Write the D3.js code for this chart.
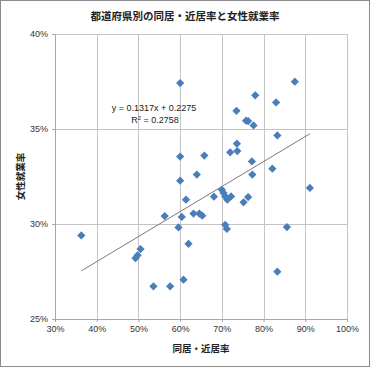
<!DOCTYPE html>
<html>
<head>
<meta charset="utf-8">
<script src="https://cdn.jsdelivr.net/npm/d3@7"></script>
<style>
  body { margin: 0; background: #fff; }
  svg { display: block; }
</style>
</head>
<body>
<svg id="chart"></svg>
<script>
// 同居・近居率 (x) と 女性就業率 (y), % values
var kinRate = [36.3, 49.3, 49.8, 50.5, 53.6, 56.3, 57.6, 59.6, 60.0, 60.0, 60.0, 60.4, 60.8, 61.4, 62.0, 63.2,
    64.0, 64.6, 65.3, 65.8, 68.1, 70.0, 70.4, 70.8, 71.3, 72.2, 70.8, 71.2, 72.0, 73.5, 73.6, 73.7,
    75.2, 75.8, 76.3, 76.3, 77.2, 77.3, 77.6, 78.0, 82.1, 83.0, 83.3, 83.3, 85.6, 87.5, 91.1];
var femaleWork = [29.4, 28.2, 28.35, 28.68, 26.72, 30.42, 26.72, 29.82, 37.42, 33.55, 32.28, 30.37, 27.07, 31.28, 28.96, 30.55,
    32.6, 30.55, 30.44, 33.6, 31.44, 31.8, 31.63, 31.45, 31.28, 31.45, 29.96, 29.74, 33.77, 35.96, 34.23, 33.84,
    31.14, 35.44, 35.42, 31.42, 33.29, 32.6, 35.19, 36.77, 32.91, 36.4, 34.66, 27.49, 29.84, 37.49, 31.9];
var xTicks = [30, 40, 50, 60, 70, 80, 90, 100];
var yTicks = [25, 30, 35, 40];
var slope = 0.1317, intercept = 0.2275, rSquared = 0.2758;

var W = 370, H = 367;
var margin = { top: 34, right: 23, bottom: 48, left: 55 },
    width = W - margin.left - margin.right,
    height = H - margin.top - margin.bottom;

var svg = d3.select("#chart").attr("width", W).attr("height", H);

// outer frame
svg.append("rect")
    .attr("x", 0.5).attr("y", 0.5)
    .attr("width", W - 1).attr("height", H - 1)
    .attr("fill", "#fff").attr("stroke", "#8c8c8c");

var x = d3.scaleLinear().domain([30, 100]).range([0, width]);
var y = d3.scaleLinear().domain([25, 40]).range([height, 0]);

var g = svg.append("g")
    .attr("transform", "translate(" + margin.left + "," + margin.top + ")");

// gridlines
g.append("g").selectAll("line").data(xTicks).enter().append("line")
    .attr("x1", function (d) { return Math.round(x(d)) + 0.5; })
    .attr("x2", function (d) { return Math.round(x(d)) + 0.5; })
    .attr("y1", 0).attr("y2", height)
    .attr("stroke", "#c4c4c4");
g.append("g").selectAll("line").data(yTicks).enter().append("line")
    .attr("y1", function (d) { return Math.round(y(d)) + 0.5; })
    .attr("y2", function (d) { return Math.round(y(d)) + 0.5; })
    .attr("x1", 0).attr("x2", width)
    .attr("stroke", "#c4c4c4");

var tickFont = "'Liberation Sans', Arial, sans-serif";

// axes
var xAxis = g.append("g")
    .attr("transform", "translate(0," + height + ")")
    .call(d3.axisBottom(x).tickValues(xTicks).tickSize(3).tickPadding(4)
        .tickFormat(function (d) { return d + "%"; }));
var yAxis = g.append("g")
    .call(d3.axisLeft(y).tickValues(yTicks).tickSize(3).tickPadding(4)
        .tickFormat(function (d) { return d + "%"; }));
[xAxis, yAxis].forEach(function (a) {
    a.selectAll(".domain").attr("stroke", "#a6a6a6");
    a.selectAll(".tick line").attr("stroke", "#a6a6a6");
    a.selectAll("text").attr("fill", "#333").style("font-family", tickFont).style("font-size", "9px");
});

// trend line from min to max x
var xMin = d3.min(kinRate), xMax = d3.max(kinRate);
g.append("line")
    .attr("x1", x(xMin)).attr("y1", y((slope * xMin / 100 + intercept) * 100))
    .attr("x2", x(xMax)).attr("y2", y((slope * xMax / 100 + intercept) * 100))
    .attr("stroke", "#7a7a7a").attr("stroke-width", 1);

// points
var diamond = d3.symbol().type(d3.symbolSquare).size(34);
g.append("g").selectAll("path").data(kinRate).enter().append("path")
    .attr("d", diamond)
    .attr("transform", function (d, i) {
        return "translate(" + x(d) + "," + y(femaleWork[i]) + ") rotate(45)";
    })
    .attr("fill", "#4a7ebb");

// equation label
var eq = svg.append("text")
    .attr("x", 154).attr("y", 111)
    .attr("text-anchor", "middle")
    .style("font-family", tickFont).style("font-size", "9px").attr("fill", "#222");
eq.text("y = " + slope + "x + " + intercept);
var r2 = svg.append("text")
    .attr("x", 155).attr("y", 123)
    .attr("text-anchor", "middle")
    .style("font-family", tickFont).style("font-size", "9px").attr("fill", "#222");
r2.append("tspan").text("R");
r2.append("tspan").attr("dy", -3).style("font-size", "6px").text("2");
r2.append("tspan").attr("dy", 3).text(" = " + rSquared);

var jpFont = "'Noto Sans CJK JP', sans-serif";

// title
svg.append("text")
    .attr("x", 185).attr("y", 20)
    .attr("text-anchor", "middle")
    .style("font-family", jpFont).style("font-size", "10.5px").style("font-weight", "bold")
    .attr("fill", "#222")
    .text("都道府県別の同居・近居率と女性就業率");

// axis titles
svg.append("text")
    .attr("x", margin.left + width / 2).attr("y", 352)
    .attr("text-anchor", "middle")
    .style("font-family", jpFont).style("font-size", "9.5px").style("font-weight", "bold")
    .attr("fill", "#222")
    .text("同居・近居率");
svg.append("text")
    .attr("transform", "translate(24," + (margin.top + height / 2) + ") rotate(-90)")
    .attr("text-anchor", "middle")
    .style("font-family", jpFont).style("font-size", "9.5px").style("font-weight", "bold")
    .attr("fill", "#222")
    .text("女性就業率");
</script>
</body>
</html>
